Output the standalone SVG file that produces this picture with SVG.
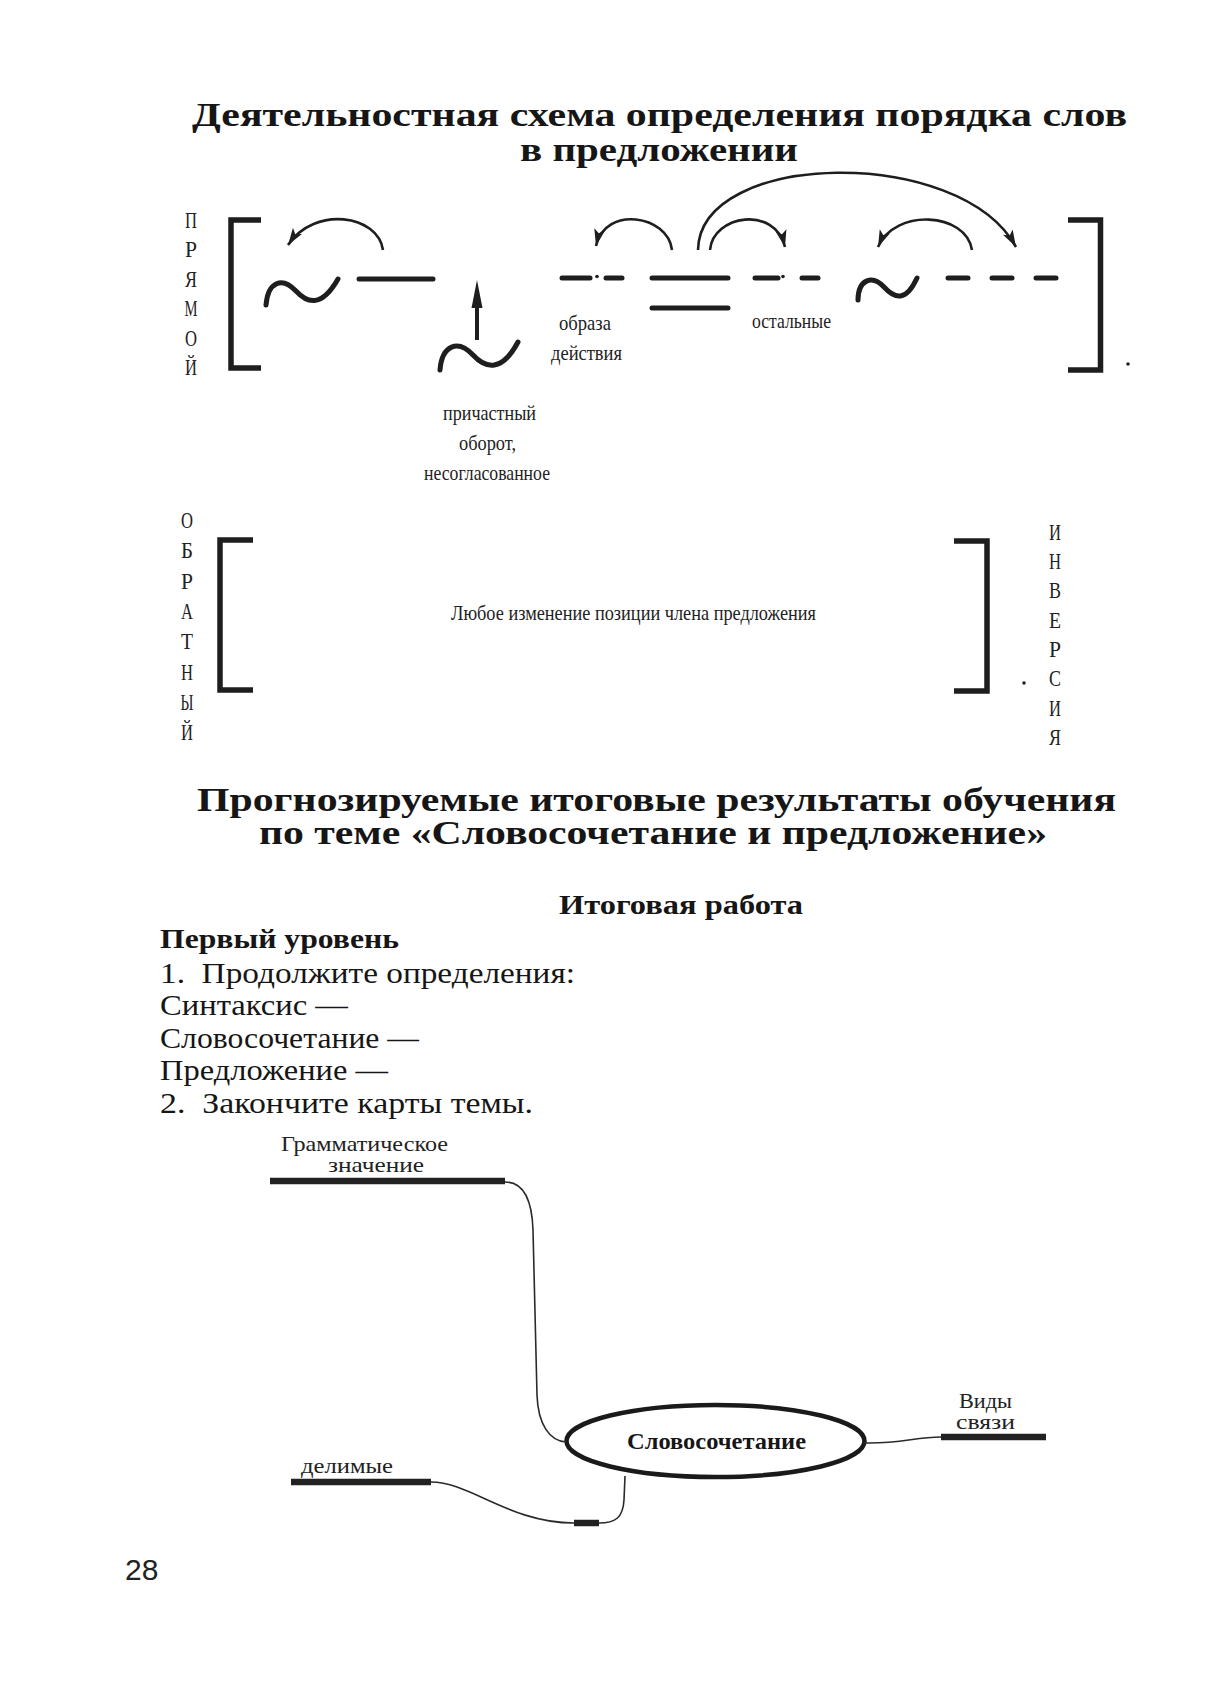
<svg xmlns="http://www.w3.org/2000/svg" width="1223" height="1689" viewBox="0 0 1223 1689">
<style>
.title{font-family:"Liberation Serif",serif;font-weight:bold;font-size:34px;fill:#161616}
.title2{font-family:"Liberation Serif",serif;font-weight:bold;font-size:33px;fill:#161616}
.sub{font-family:"Liberation Serif",serif;font-weight:bold;font-size:28px;fill:#161616}
.body{font-family:"Liberation Serif",serif;font-size:29px;fill:#161616}
.lbl{font-family:"Liberation Serif",serif;font-size:22px;fill:#222}
.map{font-family:"Liberation Serif",serif;font-size:21px;fill:#222}
.vl{font-family:"Liberation Serif",serif;font-size:24px;fill:#222}
.bold{font-family:"Liberation Serif",serif;font-weight:bold;font-size:24px;fill:#161616}
.num{font-family:"Liberation Sans",sans-serif;font-size:30px;fill:#222}
.thick{fill:none;stroke:#1e1e1e;stroke-width:5;stroke-linecap:round;stroke-linejoin:round}
.brk{fill:none;stroke:#1e1e1e;stroke-width:5.5;stroke-linejoin:miter;stroke-linecap:butt}
.arc{fill:none;stroke:#1e1e1e;stroke-width:2.6}
.conn{fill:none;stroke:#2a2a2a;stroke-width:1.6}
.bar{fill:none;stroke:#222;stroke-width:6.5;stroke-linecap:butt}
</style>
<defs>
<marker id="ah" markerUnits="userSpaceOnUse" markerWidth="20" markerHeight="12" refX="17" refY="6" orient="auto" viewBox="0 0 20 12">
<path d="M0,0.5 L17,6 L0,11.5 L4,6 z" fill="#1e1e1e"/>
</marker>
</defs>
<rect width="1223" height="1689" fill="#ffffff"/>

<g id="titles">
<text class="title" x="192" y="126" textLength="935" lengthAdjust="spacingAndGlyphs">Деятельностная схема определения порядка слов</text>
<text class="title" x="520" y="161" textLength="278" lengthAdjust="spacingAndGlyphs">в предложении</text>
</g>

<g id="direct-label">
<text class="vl" x="185" y="228" textLength="12" lengthAdjust="spacingAndGlyphs">П</text>
<text class="vl" x="185" y="257" textLength="12" lengthAdjust="spacingAndGlyphs">Р</text>
<text class="vl" x="185" y="287" textLength="12" lengthAdjust="spacingAndGlyphs">Я</text>
<text class="vl" x="184.5" y="316" textLength="13" lengthAdjust="spacingAndGlyphs">М</text>
<text class="vl" x="185" y="346" textLength="12" lengthAdjust="spacingAndGlyphs">О</text>
<text class="vl" x="185" y="375" textLength="12" lengthAdjust="spacingAndGlyphs">Й</text>
</g>

<g id="bracket-direct-left"><path class="brk" d="M261,220 L231,220 L231,368 L261,368"/></g>
<g id="bracket-direct-right"><path class="brk" d="M1068,220 L1100.5,220 L1100.5,370 L1068,370"/><circle cx="1128" cy="364" r="1.8" fill="#222"/></g>

<g id="subject-tilde"><path class="thick" d="M266,305 C268,282 282,276 296,291 C308,304 322,307 338,279"/></g>
<g id="subject-line"><line class="thick" x1="359" y1="279" x2="433" y2="279"/></g>

<g id="participle">
<path class="thick" d="M440,370 C442,345 458,339 473,355 C486,369 502,372 518,342"/>
<line x1="477" y1="340" x2="477" y2="304" stroke="#1e1e1e" stroke-width="4"/>
<polygon points="477,280 471.5,308 482.5,308" fill="#1e1e1e"/>
<text class="lbl" x="443" y="420" textLength="93" lengthAdjust="spacingAndGlyphs">причастный</text>
<text class="lbl" x="459" y="450" textLength="57" lengthAdjust="spacingAndGlyphs">оборот,</text>
<text class="lbl" x="424" y="480" textLength="126" lengthAdjust="spacingAndGlyphs">несогласованное</text>
</g>

<g id="adverbial-manner">
<line class="thick" x1="562" y1="278" x2="590" y2="278"/>
<circle cx="597" cy="276.5" r="1.8" fill="#1e1e1e"/>
<line class="thick" x1="606" y1="278" x2="622" y2="278"/>
<text class="lbl" x="559" y="330" textLength="52" lengthAdjust="spacingAndGlyphs">образа</text>
<text class="lbl" x="551" y="360" textLength="71" lengthAdjust="spacingAndGlyphs">действия</text>
</g>

<g id="predicate">
<line class="thick" x1="652" y1="278" x2="728" y2="278"/>
<line class="thick" x1="652" y1="308" x2="728" y2="308"/>
</g>

<g id="adverbial-other">
<line class="thick" x1="755" y1="278" x2="778" y2="278"/>
<circle cx="783" cy="276.5" r="1.8" fill="#1e1e1e"/>
<line class="thick" x1="802" y1="278" x2="818" y2="278"/>
<text class="lbl" x="752" y="328" textLength="79" lengthAdjust="spacingAndGlyphs">остальные</text>
</g>

<g id="object-tilde"><path class="thick" d="M858,300 C858,280 872,274 884,287 C895,299 906,302 917,278"/></g>
<g id="object-dashes">
<line class="thick" x1="948" y1="278" x2="968" y2="278"/>
<line class="thick" x1="992" y1="278" x2="1012" y2="278"/>
<line class="thick" x1="1036" y1="278" x2="1056" y2="278"/>
</g>

<g id="reverse-label">
<text class="vl" x="181" y="528" textLength="12" lengthAdjust="spacingAndGlyphs">О</text>
<text class="vl" x="181" y="558" textLength="12" lengthAdjust="spacingAndGlyphs">Б</text>
<text class="vl" x="181" y="589" textLength="12" lengthAdjust="spacingAndGlyphs">Р</text>
<text class="vl" x="181" y="619" textLength="12" lengthAdjust="spacingAndGlyphs">А</text>
<text class="vl" x="181" y="649" textLength="12" lengthAdjust="spacingAndGlyphs">Т</text>
<text class="vl" x="181" y="680" textLength="12" lengthAdjust="spacingAndGlyphs">Н</text>
<text class="vl" x="180.5" y="710" textLength="13" lengthAdjust="spacingAndGlyphs">Ы</text>
<text class="vl" x="181" y="740" textLength="12" lengthAdjust="spacingAndGlyphs">Й</text>
</g>

<g id="bracket-reverse">
<path class="brk" d="M253,540 L220,540 L220,690 L253,690"/>
<path class="brk" d="M954,541 L987,541 L987,691 L954,691"/>
<circle cx="1024" cy="683" r="1.8" fill="#222"/>
<text class="lbl" x="451" y="620" textLength="365" lengthAdjust="spacingAndGlyphs">Любое изменение позиции члена предложения</text>
</g>

<g id="inversion-label">
<text class="vl" x="1049" y="540" textLength="12" lengthAdjust="spacingAndGlyphs">И</text>
<text class="vl" x="1049" y="569" textLength="12" lengthAdjust="spacingAndGlyphs">Н</text>
<text class="vl" x="1049" y="598" textLength="12" lengthAdjust="spacingAndGlyphs">В</text>
<text class="vl" x="1049" y="628" textLength="12" lengthAdjust="spacingAndGlyphs">Е</text>
<text class="vl" x="1049" y="657" textLength="12" lengthAdjust="spacingAndGlyphs">Р</text>
<text class="vl" x="1049" y="686" textLength="12" lengthAdjust="spacingAndGlyphs">С</text>
<text class="vl" x="1049" y="716" textLength="12" lengthAdjust="spacingAndGlyphs">И</text>
<text class="vl" x="1049" y="745" textLength="12" lengthAdjust="spacingAndGlyphs">Я</text>
</g>

<g id="section2">
<text class="title2" x="197" y="811" textLength="919" lengthAdjust="spacingAndGlyphs">Прогнозируемые итоговые результаты обучения</text>
<text class="title2" x="259" y="844" textLength="788" lengthAdjust="spacingAndGlyphs">по теме «Словосочетание и предложение»</text>
<text class="sub" x="559" y="914" textLength="244" lengthAdjust="spacingAndGlyphs">Итоговая работа</text>
<text class="sub" x="160" y="948" textLength="239" lengthAdjust="spacingAndGlyphs">Первый уровень</text>
<text class="body" x="160" y="983" textLength="415" lengthAdjust="spacingAndGlyphs" xml:space="preserve">1.  Продолжите определения:</text>
<text class="body" x="160" y="1015" textLength="188" lengthAdjust="spacingAndGlyphs">Синтаксис —</text>
<text class="body" x="160" y="1048" textLength="259" lengthAdjust="spacingAndGlyphs">Словосочетание —</text>
<text class="body" x="160" y="1080" textLength="228" lengthAdjust="spacingAndGlyphs">Предложение —</text>
<text class="body" x="160" y="1113" textLength="373" lengthAdjust="spacingAndGlyphs" xml:space="preserve">2.  Закончите карты темы.</text>
</g>

<g id="node-gram">
<text class="map" x="281" y="1151" textLength="167" lengthAdjust="spacingAndGlyphs">Грамматическое</text>
<text class="map" x="328" y="1172" textLength="96" lengthAdjust="spacingAndGlyphs">значение</text>
<line class="bar" x1="270" y1="1181" x2="505" y2="1181"/>
</g>

<g id="node-center">
<ellipse cx="715.5" cy="1441" rx="149" ry="36" fill="#fff" stroke="#1a1a1a" stroke-width="4.5"/>
<text class="bold" x="627" y="1449" textLength="179" lengthAdjust="spacingAndGlyphs">Словосочетание</text>
</g>

<g id="node-vidy">
<text class="map" x="959" y="1408" textLength="53" lengthAdjust="spacingAndGlyphs">Виды</text>
<text class="map" x="956" y="1429" textLength="59" lengthAdjust="spacingAndGlyphs">связи</text>
<line class="bar" x1="941" y1="1437" x2="1046" y2="1437"/>
</g>

<g id="node-delimye">
<text class="map" x="301" y="1473" textLength="92" lengthAdjust="spacingAndGlyphs">делимые</text>
<line class="bar" x1="291" y1="1482" x2="431" y2="1482"/>
</g>

<g id="node-small">
<line class="bar" x1="574" y1="1523" x2="599" y2="1523"/>
</g>

<g id="connectors">
<path class="arc" d="M383,250 C378,215 315,205 288,245" marker-end="url(#ah)"/>
<path class="arc" d="M672,250 C668,215 605,205 596,246" marker-end="url(#ah)"/>
<path class="arc" d="M710,250 C713,215 775,205 785,247" marker-end="url(#ah)"/>
<path class="arc" d="M698,250 C700,150 960,145 1016,247" marker-end="url(#ah)"/>
<path class="arc" d="M972,250 C966,212 895,208 878,247" marker-end="url(#ah)"/>
<path class="conn" d="M505,1182 C524,1182 532,1200 533,1230 L537,1395 C538,1425 550,1441 566,1442"/>
<path class="conn" d="M864,1443 C900,1444 915,1437 941,1437"/>
<path class="conn" d="M431,1482 C470,1482 510,1523 574,1523"/>
<path class="conn" d="M599,1523 C615,1523 623,1518 624,1500 L625,1476"/>
</g>

<g id="page-number">
<text class="num" x="125" y="1580">28</text>
</g>
</svg>
